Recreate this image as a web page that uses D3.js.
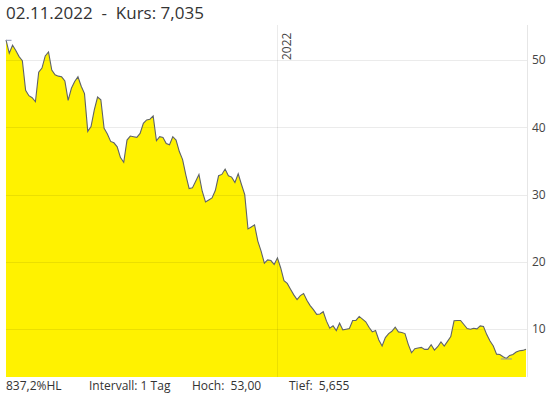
<!DOCTYPE html>
<html>
<head>
<meta charset="utf-8">
<script src="https://cdn.jsdelivr.net/npm/d3@7"></script>
<style>
  body { margin: 0; background: #fff; }
  text { font-family: "Open Sans", sans-serif; white-space: pre; }
</style>
</head>
<body>
<div id="chart"></div>
<script>
const width = 551, height = 394;

// closing prices, one every 4 calendar days from 04.02.2021 to 02.11.2022
const startDate = "2021-02-04";
const stepDays = 4;
const prices = [
	53.0, 51.0, 52.2, 51.4, 50.5, 49.9, 45.5, 44.7, 44.4, 43.8,
	48.2, 48.8, 50.6, 51.2, 48.5, 47.8, 47.6, 47.5, 46.9, 44.0,
	45.8, 46.8, 47.5, 46.1, 45.0, 39.4, 40.1, 42.6, 44.5, 44.1,
	39.85, 39.0, 37.9, 37.7, 37.1, 35.5, 34.8, 38.1, 38.7, 38.6,
	38.5, 39.1, 40.6, 41.1, 41.2, 41.7, 38.0, 38.6, 38.5, 37.6,
	37.4, 38.6, 38.1, 36.4, 35.2, 32.9, 30.9, 31.0, 32.0, 33.0,
	30.5, 28.9, 29.2, 29.5, 30.6, 32.8, 33.0, 33.8, 32.8, 32.6,
	31.8, 33.1, 31.5, 30.0, 24.9, 25.2, 25.5, 23.1, 21.6, 19.8,
	20.3, 20.2, 19.6, 20.6, 19.1, 17.2, 16.8, 15.95, 15.1, 14.4,
	15.0, 15.3, 14.3, 13.5, 12.9, 12.2, 12.25, 12.6, 11.2, 10.15,
	10.5, 9.8, 10.9, 9.9, 10.0, 10.1, 11.3, 11.3, 11.9, 11.5,
	11.1, 10.3, 9.6, 9.8, 8.4, 7.5, 8.75, 9.35, 9.7, 10.3,
	9.6, 9.5, 9.35, 7.75, 6.5, 7.1, 7.2, 7.3, 7.0, 7.0,
	7.7, 6.9, 7.4, 8.1, 7.5, 8.2, 8.9, 11.25, 11.3, 11.3,
	10.7, 10.1, 10.0, 10.15, 10.05, 10.5, 10.4, 9.2, 8.25, 7.5,
	6.3, 6.25, 5.9, 5.655, 6.1, 6.25, 6.6, 6.8, 6.85, 7.035
];

const yTicks = [10, 20, 30, 40, 50];
const yearMarks = ["2022-01-01"];
const titleText = "02.11.2022  -  Kurs: 7,035";
const footerTexts = ["837,2%HL", "Intervall: 1 Tag", "Hoch:  53,00", "Tief:  5,655"];

const parseDate = d3.timeParse("%Y-%m-%d");
const t0 = parseDate(startDate);
const data = prices.map((v, i) => ({ date: d3.timeDay.offset(t0, i * stepDays), value: v }));

const plotLeft = 6, plotRight = 527, plotTop = 25, plotBottom = 377;

const svg = d3.select("#chart")
	.append("svg")
	.attr("width", width)
	.attr("height", height);

const x = d3.scaleTime()
	.domain(d3.extent(data, d => d.date))
	.range([plotLeft, 526]);

const y = d3.scaleLinear()
	.domain([2.9, 55.2])
	.range([plotBottom, plotTop]);

// yellow area with dark outline
const area = d3.area()
	.x(d => x(d.date))
	.y0(plotBottom)
	.y1(d => y(d.value));

const line = d3.line()
	.x(d => x(d.date))
	.y(d => y(d.value));

svg.append("path")
	.datum(data)
	.attr("d", area)
	.attr("fill", "#fff200");

// grid drawn over the area, faint
const grid = svg.append("g");
grid.selectAll(".hgrid")
	.data(yTicks)
	.enter()
	.append("line")
	.attr("x1", plotLeft)
	.attr("x2", plotRight)
	.attr("y1", d => Math.round(y(d)) + 0.5)
	.attr("y2", d => Math.round(y(d)) + 0.5)
	.attr("stroke", "#000")
	.attr("stroke-opacity", 0.08);

grid.selectAll(".vgrid")
	.data(yearMarks)
	.enter()
	.append("line")
	.attr("x1", d => Math.round(x(parseDate(d))) + 0.5)
	.attr("x2", d => Math.round(x(parseDate(d))) + 0.5)
	.attr("y1", plotTop)
	.attr("y2", plotBottom)
	.attr("stroke", "#000")
	.attr("stroke-opacity", 0.08);

svg.append("line")
	.attr("x1", plotRight + 0.5)
	.attr("x2", plotRight + 0.5)
	.attr("y1", plotTop)
	.attr("y2", plotBottom)
	.attr("stroke", "#e6e6e6");

svg.append("path")
	.datum(data)
	.attr("d", line)
	.attr("fill", "none")
	.attr("stroke", "#5f6368")
	.attr("stroke-width", 1.1);

// high / low markers
const hi = d3.greatest(data, d => d.value);
const lo = d3.least(data, d => d.value);
svg.selectAll(".hl")
	.data([hi, lo])
	.enter()
	.append("line")
	.attr("x1", d => Math.max(plotLeft, x(d.date) - 5.5))
	.attr("x2", d => x(d.date) + 5.5)
	.attr("y1", d => y(d.value) + 0.5)
	.attr("y2", d => y(d.value) + 0.5)
	.attr("stroke", "#8a93b3")
	.attr("stroke-width", 1);

// y axis labels on the right
svg.selectAll(".ylab")
	.data(yTicks)
	.enter()
	.append("text")
	.attr("x", 532)
	.attr("y", d => y(d))
	.attr("dy", "0.35em")
	.attr("font-size", 12)
	.attr("fill", "#444")
	.text(d => d);

// year label, rotated
svg.selectAll(".yearlab")
	.data(yearMarks)
	.enter()
	.append("text")
	.attr("transform", d => `translate(${x(parseDate(d)) + 14},${plotTop + 35}) rotate(-90)`)
	.attr("font-size", 12)
	.attr("fill", "#444")
	.text(d => d.slice(0, 4));

svg.append("text")
	.attr("x", 6)
	.attr("y", 19)
	.attr("font-size", 17)
	.attr("fill", "#333")
	.text(titleText);

const footerX = [6, 89, 192, 289];
svg.selectAll(".foot")
	.data(footerTexts)
	.enter()
	.append("text")
	.attr("x", (d, i) => footerX[i])
	.attr("y", 390)
	.attr("font-size", 12)
	.attr("fill", "#333")
	.text(d => d);
</script>
</body>
</html>
